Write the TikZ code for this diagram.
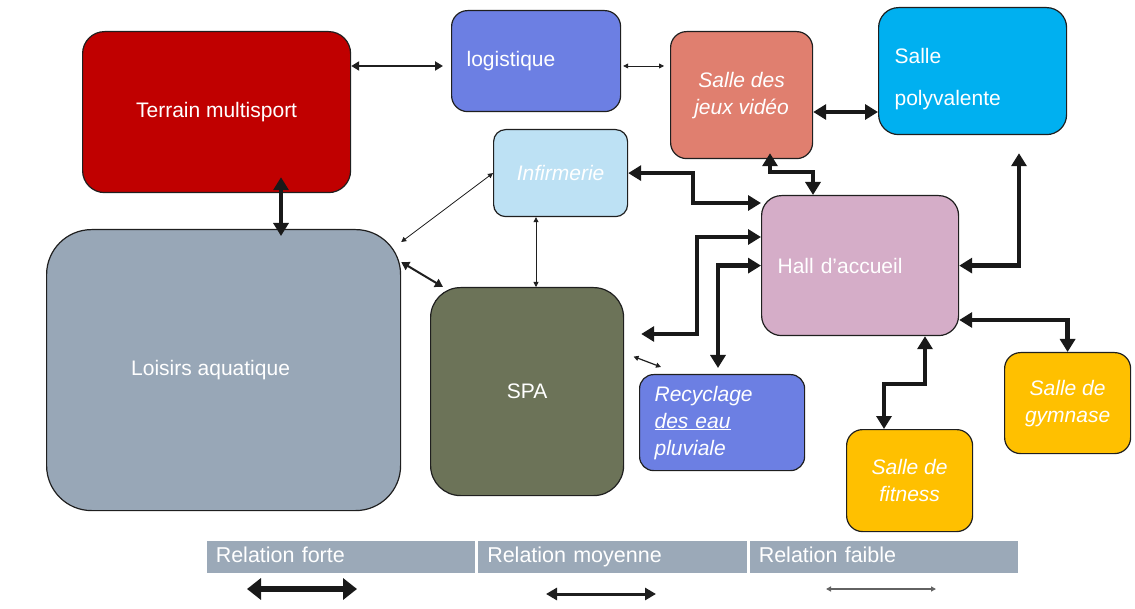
\documentclass[tikz,border=0pt]{standalone}
\usepackage{fontspec}
\setmainfont{Liberation Sans}
\usetikzlibrary{positioning,arrows.meta}
\definecolor{SiteEdge}{HTML}{1F1F1F}
\definecolor{SiteRed}{HTML}{C00000}
\definecolor{SiteBlue}{HTML}{6C7FE3}
\definecolor{SiteSalmon}{HTML}{E07F6F}
\definecolor{SiteCyan}{HTML}{00B0F0}
\definecolor{SiteSky}{HTML}{BDE1F4}
\definecolor{SiteMauve}{HTML}{D5ADC8}
\definecolor{SiteGrey}{HTML}{98A7B7}
\definecolor{SiteOlive}{HTML}{6C7358}
\definecolor{SiteGold}{HTML}{FFC000}
\definecolor{SiteBar}{HTML}{9BA9B8}
\tikzset{
  site box/.style={
    draw=SiteEdge,
    line width=1.2pt,
    anchor=north west,
    text=white,
    inner sep=0pt,
    align=center,
    font=\fontsize{21}{27}\selectfont
  },
  site left/.style={site box, align=left, inner xsep=15pt},
  site it/.style={site box, font=\fontsize{21}{27}\selectfont\itshape},
  legend cell/.style={
    anchor=north west,
    fill=SiteBar,
    draw=white,
    line width=1.5pt,
    text=white,
    align=left,
    inner xsep=10pt,
    inner ysep=0pt,
    text width=250pt,
    text height=15pt,
    text depth=4pt,
    minimum height=34pt,
    font=\fontsize{21.5}{24}\selectfont
  },
  rel forte/.style={line width=4.5pt, SiteEdge!80!black,
    {Triangle[length=13pt,width=15pt]}-{Triangle[length=13pt,width=15pt]}},
  rel moyenne/.style={line width=2pt, SiteEdge,
    {Triangle[length=8pt,width=9pt]}-{Triangle[length=8pt,width=9pt]}},
  rel faible/.style={line width=0.8pt, SiteEdge,
    {Triangle[length=5pt,width=5pt]}-{Triangle[length=5pt,width=5pt]}}
}
\begin{document}
\begin{tikzpicture}[x=1pt, y=-1pt]
\useasboundingbox (0,0) rectangle (1135,609);
% espaces
\node[site box, fill=SiteRed, minimum width=268pt, minimum height=161pt, rounded corners=22pt] (terrain) at (82,31) {Terrain multisport};
\node[site left, fill=SiteBlue, text width=139pt, minimum height=101pt, rounded corners=16pt] (logi) at (451,10) {logistique};
\node[site it, fill=SiteSalmon, minimum width=142pt, minimum height=127pt, rounded corners=16pt] (jeux) at (670,31) {Salle des\\jeux vidéo};
\node[site left, fill=SiteCyan, inner xsep=16pt, text width=156pt, minimum height=127pt, rounded corners=20pt] (poly) at (878,7) {\rule{0pt}{32pt}Salle\\[15pt]polyvalente};
\node[site it, fill=SiteSky, minimum width=134pt, minimum height=87pt, rounded corners=12pt] (infirm) at (493,129) {Infirmerie};
\node[site left, fill=SiteMauve, inner xsep=16pt, text width=165pt, minimum height=140pt, rounded corners=20pt] (hall) at (761,195) {Hall d’accueil};
\node[site box, fill=SiteGrey, minimum width=354pt, minimum height=281pt, rounded corners=45pt] (loisirs) at (46,229) {Loisirs aquatique\hspace*{26pt}};
\node[site box, fill=SiteOlive, minimum width=193pt, minimum height=208pt, rounded corners=30pt] (spa) at (430,287) {SPA};
\node[site left, fill=SiteBlue, text width=135pt, minimum height=96pt, rounded corners=14pt, font=\fontsize{21}{27}\selectfont\itshape] (recyc) at (639,374) {Recyclage\\\underline{des eau}\\pluviale};
\node[site it, fill=SiteGold, minimum width=126pt, minimum height=102pt, rounded corners=16pt] (fitness) at (846,429) {Salle de\\fitness};
\node[site it, fill=SiteGold, minimum width=126pt, minimum height=101pt, rounded corners=16pt] (gym) at (1004,352) {Salle de\\gymnase};
% relations fortes
\draw[rel forte] (jeux.east |- 0,112) -- (poly.west |- 0,112);
\draw[rel forte, shorten <=-16pt, shorten >=-7pt] (terrain.south -| 281,0) -- (loisirs.north -| 281,0);
\draw[rel forte] (infirm.east) -| (693,203) -- (hall.west |- 0,203);
\draw[rel forte, shorten <=-6pt] (jeux.south -| 770,0) |- (813,172) -- (hall.north -| 813,0);
\draw[rel forte, shorten <=17pt] (spa.east |- 0,334) -| (697,237) -- (hall.west |- 0,237);
\draw[rel forte, shorten <=6pt] (recyc.north -| 718,0) |- (hall.west);
\draw[rel forte, shorten >=18pt] (hall.east) -| (poly.south -| 1019,0);
\draw[rel forte] (hall.east |- 0,320) -| (gym.north);
\draw[rel forte] (hall.south -| 925,0) |- (884,384) -- (fitness.north -| 884,0);
% relations moyennes
\draw[rel moyenne, shorten >=8pt] (terrain.east |- 0,66) -- (logi.west |- 0,66);
\draw[rel moyenne] (loisirs.east |- 0,262) -- ([xshift=13pt]spa.north west);
% relations faibles
\draw[rel faible, shorten <=2pt, shorten >=6pt] (logi.east |- 0,66) -- (jeux.west |- 0,66);
\draw[rel faible] (infirm.west) -- ([yshift=-13pt]loisirs.north east);
\draw[rel faible] (infirm.south -| 536,0) -- (spa.north -| 536,0);
\draw[rel faible, line width=1.2pt, shorten <=10pt] (spa.east |- 0,353) -- ([xshift=22pt,yshift=7pt]recyc.north west);
% legende
\node[legend cell] (lforte) at (205,539) {Relation forte};
\node[legend cell, right=0pt of lforte] (lmoy) {Relation moyenne};
\node[legend cell, right=0pt of lmoy] (lfaible) {Relation faible};
\coordinate (fa) at (247,589);
\coordinate (fb) at (357,589);
\coordinate (ma) at (546,594);
\coordinate (mb) at (656,594);
\coordinate (wa) at (826,589);
\coordinate (wb) at (936,589);
\draw[rel forte, line width=6pt, {Triangle[length=14pt,width=21pt]}-{Triangle[length=14pt,width=21pt]}] (fa) -- (fb);
\draw[rel moyenne, line width=3pt, {Triangle[length=11pt,width=12pt]}-{Triangle[length=11pt,width=12pt]}] (ma) -- (mb);
\draw[rel faible, line width=1.3pt, SiteEdge!70] (wa) -- (wb);
\end{tikzpicture}
\end{document}
